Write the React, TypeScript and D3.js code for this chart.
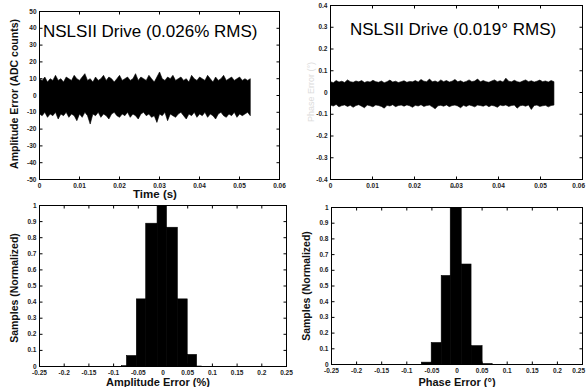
import React from "react";
import * as d3 from "d3";

// ---------- data ----------
const timeTicks = [0, 0.01, 0.02, 0.03, 0.04, 0.05, 0.06];
const ampTicks = [-50, -40, -30, -20, -10, 0, 10, 20, 30, 40, 50];
const phaseTicks = [-0.4, -0.3, -0.2, -0.1, 0, 0.1, 0.2, 0.3, 0.4];
const histXTicks = [-0.25, -0.2, -0.15, -0.1, -0.05, 0, 0.05, 0.1, 0.15, 0.2, 0.25];
const histYTicks = [0, 0.1, 0.2, 0.3, 0.4, 0.5, 0.6, 0.7, 0.8, 0.9, 1];

const ampEnd = 0.0527;
const ampUpper = [10, 9, 11, 8, 10, 9, 12, 9, 10, 8, 11, 10, 9, 12, 10, 9, 11, 13, 9, 10, 8, 11, 9, 10, 12, 9, 11, 10, 8, 10, 12, 9, 10, 11, 9, 10, 13, 9, 11, 10, 9, 12, 10, 8, 11, 14, 10, 9, 11, 10, 12, 9, 10, 11, 9, 10, 8, 12, 10, 9, 11, 10, 9, 12, 10, 8, 11, 9, 10, 12, 9, 10, 11, 9, 10, 11, 9, 10, 9, 10];
const ampLower = [-11, -12, -10, -13, -11, -12, -10, -14, -11, -12, -10, -13, -11, -12, -15, -11, -13, -10, -12, -17, -11, -12, -10, -13, -11, -12, -14, -11, -10, -12, -13, -11, -12, -10, -13, -11, -12, -14, -11, -10, -12, -11, -13, -12, -16, -11, -12, -10, -15, -11, -12, -13, -11, -10, -12, -14, -11, -12, -10, -13, -11, -12, -10, -13, -11, -12, -14, -11, -10, -12, -13, -11, -12, -10, -13, -11, -12, -11, -10, -12];

const phaseEnd = 0.0532;
const phaseUpper = [0.05, 0.045, 0.055, 0.048, 0.052, 0.046, 0.058, 0.05, 0.047, 0.053, 0.049, 0.055, 0.046, 0.051, 0.048, 0.056, 0.05, 0.047, 0.053, 0.045, 0.05, 0.057, 0.048, 0.052, 0.046, 0.05, 0.054, 0.047, 0.051, 0.049, 0.055, 0.048, 0.06, 0.052, 0.05, 0.062, 0.049, 0.053, 0.047, 0.058, 0.05, 0.055, 0.048, 0.052, 0.06, 0.049, 0.054, 0.047, 0.051, 0.058, 0.05, 0.053, 0.062, 0.049, 0.055, 0.05, 0.047, 0.053, 0.058, 0.05, 0.054, 0.048, 0.066, 0.052, 0.049, 0.056, 0.05, 0.047, 0.053, 0.058, 0.05, 0.054, 0.048, 0.052, 0.057, 0.05, 0.053, 0.048, 0.055, 0.05];
const phaseLower = [-0.058, -0.062, -0.055, -0.066, -0.06, -0.057, -0.064, -0.059, -0.068, -0.06, -0.056, -0.063, -0.07, -0.058, -0.061, -0.066, -0.057, -0.06, -0.064, -0.072, -0.059, -0.062, -0.056, -0.065, -0.06, -0.058, -0.063, -0.057, -0.061, -0.068, -0.059, -0.062, -0.056, -0.064, -0.06, -0.058, -0.066, -0.075, -0.061, -0.059, -0.063, -0.057, -0.065, -0.06, -0.058, -0.062, -0.07, -0.059, -0.064, -0.057, -0.061, -0.066, -0.058, -0.06, -0.063, -0.057, -0.065, -0.059, -0.062, -0.068, -0.058, -0.061, -0.057, -0.064, -0.06, -0.058, -0.072, -0.061, -0.059, -0.063, -0.057, -0.078, -0.06, -0.058, -0.064, -0.061, -0.059, -0.066, -0.06, -0.058];

const ampBinEdges = [-0.084, -0.074, -0.054, -0.035, -0.012, 0.007, 0.029, 0.049, 0.068, 0.078];
const ampBinHeights = [0.005, 0.068, 0.42, 0.89, 1.0, 0.865, 0.42, 0.075, 0.003];

const phaseBinEdges = [-0.071, -0.0514, -0.0315, -0.0135, 0.0084, 0.028, 0.05, 0.07];
const phaseBinHeights = [0.015, 0.14, 0.567, 1.0, 0.64, 0.12, 0.006];

// ---------- helpers ----------
const FONT = "'Liberation Sans', Arial, Helvetica, sans-serif";
const W = 586;

type Box = { left: number; right: number; top: number; bottom: number };

function fmt(v: number) {
  if (Math.abs(v) < 1e-12) return "0";
  return String(+v.toFixed(3));
}

function Frame({
  box, x, y, xTicks, yTicks,
}: {
  box: Box;
  x: d3.ScaleLinear<number, number>;
  y: d3.ScaleLinear<number, number>;
  xTicks: number[];
  yTicks: number[];
}) {
  const tl = 3;
  return (
    <g>
      <rect x={box.left} y={box.top} width={box.right - box.left} height={box.bottom - box.top}
        fill="none" stroke="#000" strokeWidth={1} />
      {xTicks.map((t, i) => {
        const px = x(t);
        const nearEdge = px + 9 > W;
        return (
          <g key={"x" + i}>
            <line x1={px} x2={px} y1={box.bottom} y2={box.bottom - tl} stroke="#000" />
            <line x1={px} x2={px} y1={box.top} y2={box.top + tl} stroke="#000" />
            <text x={nearEdge ? W - 1 : px} y={box.bottom + 8.5} fontSize={6.5} fontWeight="bold"
              textAnchor={nearEdge ? "end" : "middle"} fontFamily={FONT} fill="#222">{fmt(t)}</text>
          </g>
        );
      })}
      {yTicks.map((t, i) => (
        <g key={"y" + i}>
          <line x1={box.left} x2={box.left + tl} y1={y(t)} y2={y(t)} stroke="#000" />
          <line x1={box.right} x2={box.right - tl} y1={y(t)} y2={y(t)} stroke="#000" />
          <text x={box.left - 3} y={y(t) + 2} fontSize={6.5} fontWeight="bold" textAnchor="end"
            fontFamily={FONT} fill="#222">{fmt(t)}</text>
        </g>
      ))}
    </g>
  );
}

function NoisePanel({ box, yTicks, yDomain, upper, lower, tEnd }: {
  box: Box; yTicks: number[]; yDomain: [number, number]; upper: number[]; lower: number[]; tEnd: number;
}) {
  const x = d3.scaleLinear().domain([0, 0.06]).range([box.left, box.right]);
  const y = d3.scaleLinear().domain(yDomain).range([box.bottom, box.top]);
  const n = upper.length;
  const pts = upper.map((u, i) => ({ t: (i / (n - 1)) * tEnd, u, l: lower[i] }));
  const area = d3.area<{ t: number; u: number; l: number }>()
    .x((d) => x(d.t)).y0((d) => y(d.l)).y1((d) => y(d.u)).curve(d3.curveLinear);
  return (
    <g>
      <path d={area(pts) || ""} fill="#000" stroke="#000" strokeWidth={0.6} />
      <Frame box={box} x={x} y={y} xTicks={timeTicks} yTicks={yTicks} />
    </g>
  );
}

function HistPanel({ box, edges, heights }: { box: Box; edges: number[]; heights: number[] }) {
  const x = d3.scaleLinear().domain([-0.25, 0.25]).range([box.left, box.right]);
  const y = d3.scaleLinear().domain([0, 1]).range([box.bottom, box.top]);
  return (
    <g>
      {heights.map((h, i) => (
        <rect key={i} x={x(edges[i])} width={x(edges[i + 1]) - x(edges[i])}
          y={y(h)} height={y(0) - y(h)} fill="#000" stroke="#000" strokeWidth={0.6} />
      ))}
      <Frame box={box} x={x} y={y} xTicks={histXTicks} yTicks={histYTicks} />
    </g>
  );
}

const P1: Box = { left: 39.5, right: 279.5, top: 11.5, bottom: 179.5 };
const P2: Box = { left: 330.5, right: 582.5, top: 5.5, bottom: 179.5 };
const P3: Box = { left: 39.5, right: 286.5, top: 205.5, bottom: 366.5 };
const P4: Box = { left: 331.5, right: 582.5, top: 207.5, bottom: 364.5 };

export default function App() {
  return (
    <svg width={586} height={387} viewBox="0 0 586 387"
      style={{ position: "absolute", left: 0, top: 0, background: "#fff" }}>
      <rect x={0} y={0} width={586} height={387} fill="#fff" />
      <NoisePanel box={P1} yTicks={ampTicks} yDomain={[-50, 50]} upper={ampUpper} lower={ampLower} tEnd={ampEnd} />
      <NoisePanel box={P2} yTicks={phaseTicks} yDomain={[-0.4, 0.4]} upper={phaseUpper} lower={phaseLower} tEnd={phaseEnd} />
      <HistPanel box={P3} edges={ampBinEdges} heights={ampBinHeights} />
      <HistPanel box={P4} edges={phaseBinEdges} heights={phaseBinHeights} />

      {/* titles */}
      <text x={43} y={37} fontSize={17} fontFamily={FONT} fill="#000">NSLSII Drive (0.026% RMS)</text>
      <text x={350} y={35} fontSize={17} fontFamily={FONT} fill="#000">NSLSII Drive (0.019° RMS)</text>

      {/* axis labels */}
      <text transform="translate(18,94) rotate(-90)" fontSize={10.5} fontWeight="bold" textAnchor="middle"
        fontFamily={FONT} fill="#111">Amplitude Error (ADC counts)</text>
      <text transform="translate(314,92) rotate(-90)" fontSize={9} textAnchor="middle"
        fontFamily={FONT} fill="#dcdcdc">Phase Error (°)</text>
      <text x={155} y={198} fontSize={11.5} fontWeight="bold" textAnchor="middle" fontFamily={FONT} fill="#111">Time (s)</text>
      <line x1={450} x2={456} y1={187} y2={187} stroke="#555" strokeWidth={1} />

      <text transform="translate(18,288) rotate(-90)" fontSize={10.5} fontWeight="bold" textAnchor="middle"
        fontFamily={FONT} fill="#111">Samples (Normalized)</text>
      <text transform="translate(310,286) rotate(-90)" fontSize={10.5} fontWeight="bold" textAnchor="middle"
        fontFamily={FONT} fill="#111">Samples (Normalized)</text>
      <text x={158} y={385.5} fontSize={11} fontWeight="bold" textAnchor="middle" fontFamily={FONT} fill="#111">Amplitude Error (%)</text>
      <text x={457} y={385.5} fontSize={11} fontWeight="bold" textAnchor="middle" fontFamily={FONT} fill="#111">Phase Error (°)</text>
    </svg>
  );
}
